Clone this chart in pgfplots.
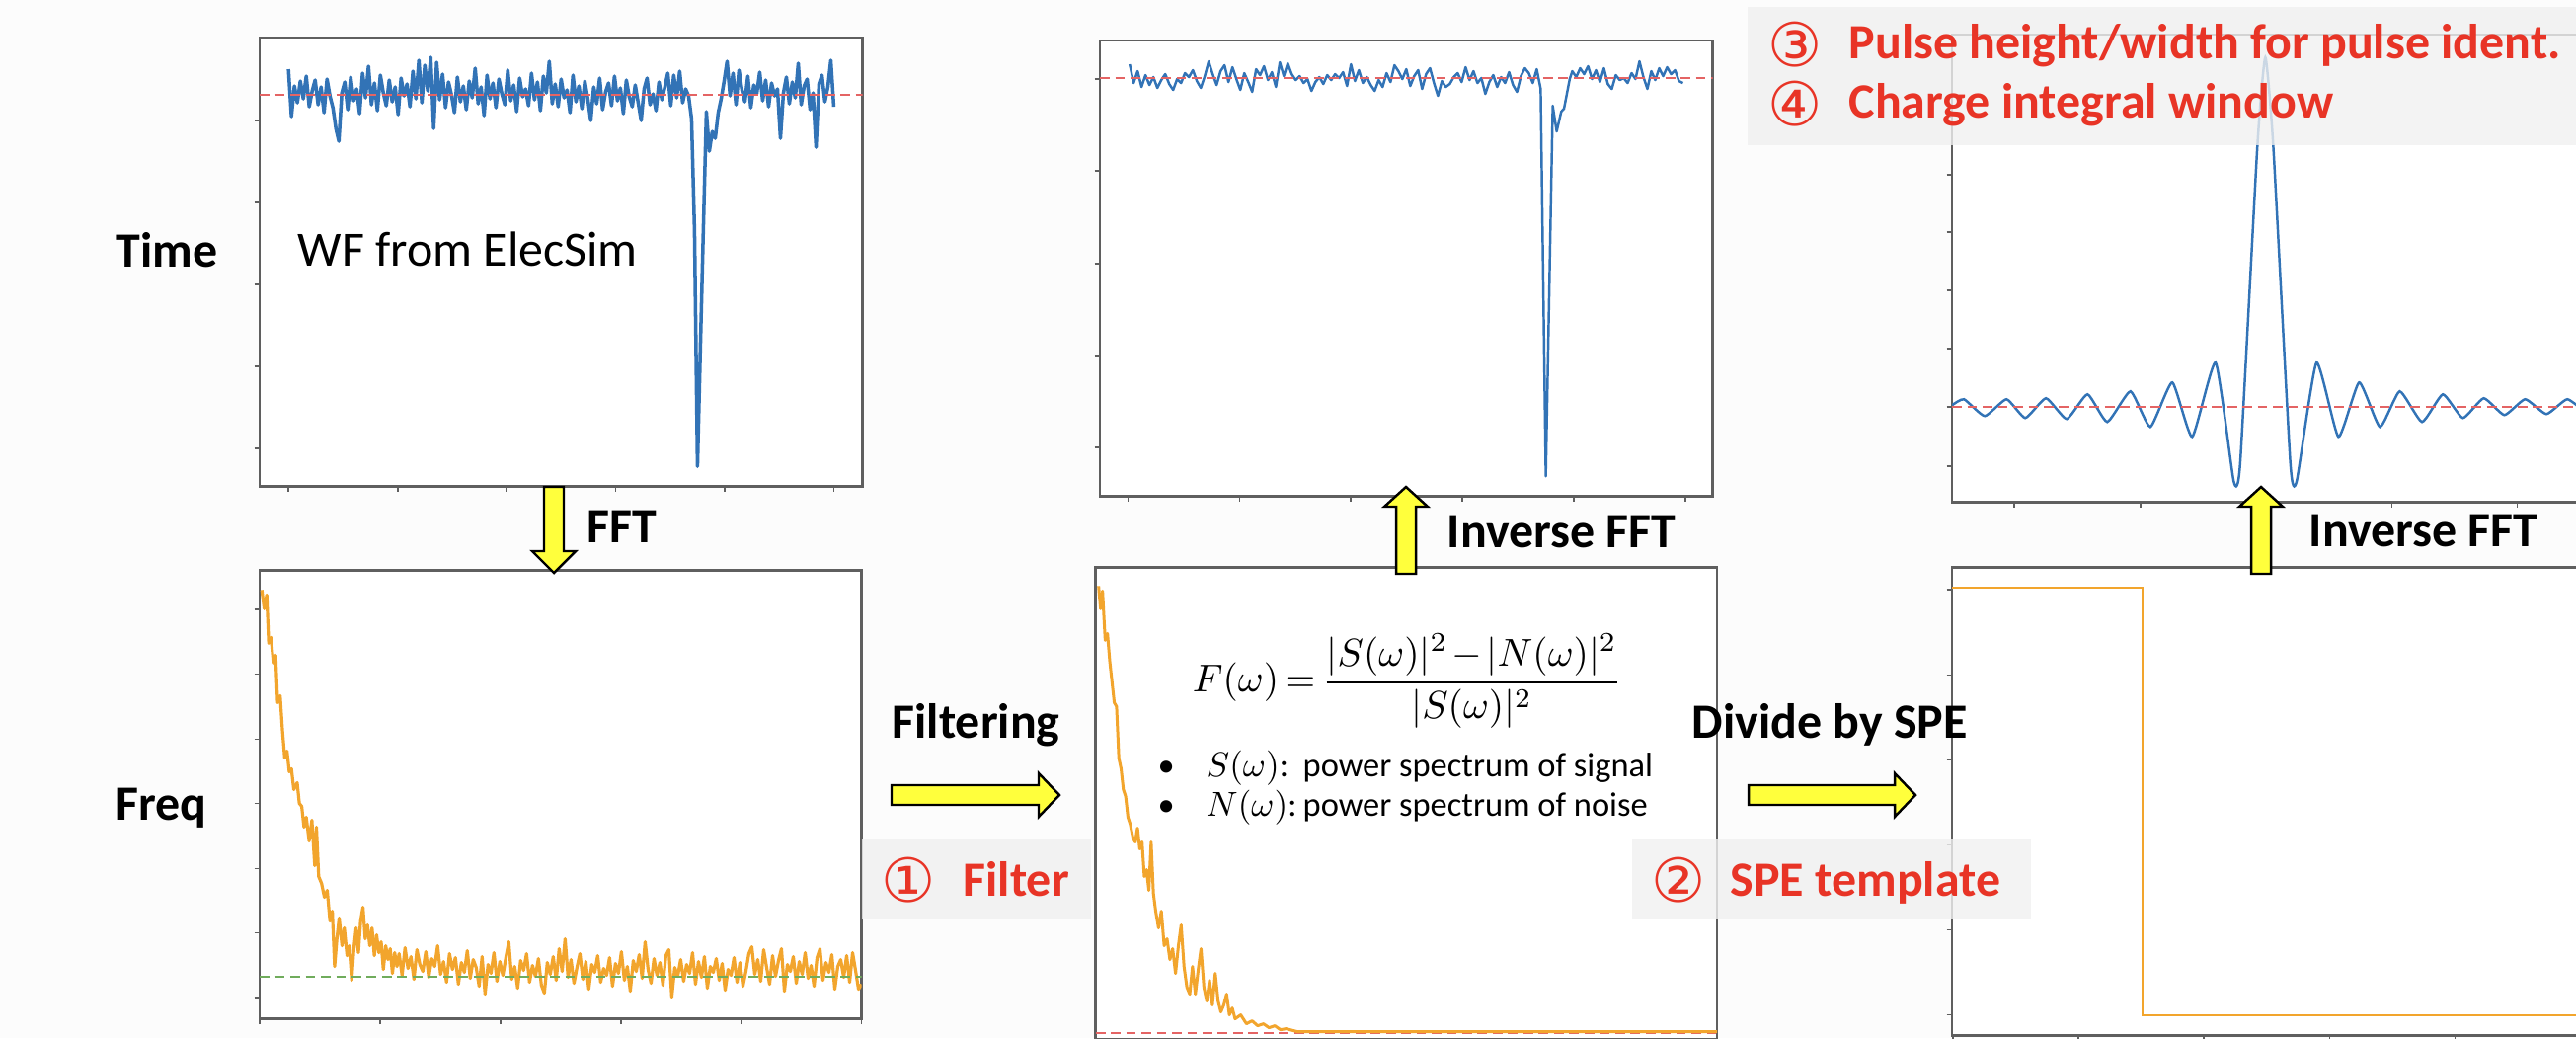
\documentclass[border=0pt]{standalone}
\usepackage{pgfplots}
\pgfplotsset{compat=1.18}
\usepackage{fontspec}
\setmainfont{Carlito}
\newfontfamily\circled{DejaVu Sans}

\definecolor{bgc}{RGB}{252,252,252}
\definecolor{mblue}{RGB}{50,115,182}
\definecolor{morange}{RGB}{242,165,45}
\definecolor{dashred}{RGB}{228,100,100}
\definecolor{dashgreen}{RGB}{112,172,92}
\definecolor{txtred}{RGB}{232,52,38}
\definecolor{boxgray}{RGB}{240,240,240}
\definecolor{ayellow}{RGB}{255,255,60}
\definecolor{framec}{RGB}{95,95,95}

\pgfplotsset{
  panel/.style={scale only axis, anchor=south west,
    axis background/.style={fill=white},
    axis line style={framec,line width=0.75pt},
    tick align=outside, tick pos=left, major tick length=0.055cm,
    tick style={framec,line width=0.5pt},
    xticklabels={}, yticklabels={}},
  refline/.style={line width=0.6pt, dash pattern=on 2.8pt off 1.6pt}
}

% arrows: tail x, tip x, centre y  /  centre x, start y, tip y, head length
\newcommand{\rarrow}[3]{\filldraw[ayellow, draw=black, line width=0.7pt, line join=miter]
  (#1,{#3-10}) -- ({#2-21},{#3-10}) -- ({#2-21},{#3-22}) -- (#2,#3) --
  ({#2-21},{#3+22}) -- ({#2-21},{#3+10}) -- (#1,{#3+10}) -- cycle;}
\newcommand{\varrow}[4]{\filldraw[ayellow, draw=black, line width=0.7pt, line join=miter]
  ({#1-10},#2) -- ({#1-10},{#3+#4}) -- ({#1-22},{#3+#4}) -- (#1,#3) --
  ({#1+22},{#3+#4}) -- ({#1+10},{#3+#4}) -- ({#1+10},#2) -- cycle;}

\begin{document}
\begin{tikzpicture}
\begin{scope}[x=0.01cm,y=-0.01cm]
\fill[bgc] (0,0) rectangle (2609,1051);
\end{scope}

% ---- time domain, raw waveform
\begin{axis}[panel, at={(2.63cm,-4.92cm)}, width=6.10cm, height=4.54cm,
  xmin=-9.667, xmax=193.667, ymin=0, ymax=454,
  xtick={0,36.8,73.6,110.4,147.2,184}, ytick={38,121,204,287,370}]
\addplot[mblue, line width=1.0pt, line join=round] coordinates {
(0,422)(1,374)(2,405)(3,388)(4,410)(5,392)(6,415)(7,384)(8,400)(9,411)
(10,386)(11,404)(12,378)(13,412)(14,395)(15,383)(16,362)(17,349)(18,398)(19,409)
(20,381)(21,414)(22,390)(23,402)(24,377)(25,418)(26,393)(27,425)(28,386)(29,408)
(30,380)(31,416)(32,398)(33,385)(34,411)(35,389)(36,404)(37,376)(38,413)(39,395)
(40,407)(41,384)(42,420)(43,392)(44,431)(45,388)(46,426)(47,400)(48,434)(49,362)
(50,429)(51,391)(52,417)(53,383)(54,409)(55,396)(56,378)(57,414)(58,389)(59,405)
(60,381)(61,410)(62,393)(63,423)(64,387)(65,404)(66,375)(67,416)(68,392)(69,408)
(70,383)(71,412)(72,397)(73,386)(74,421)(75,390)(76,406)(77,379)(78,413)(79,394)
(80,402)(81,385)(82,418)(83,391)(84,409)(85,380)(86,415)(87,398)(88,430)(89,387)
(90,407)(91,384)(92,412)(93,393)(94,401)(95,378)(96,416)(97,389)(98,405)(99,382)
(100,410)(101,392)(102,370)(103,404)(104,387)(105,413)(106,381)(107,399)(108,408)(109,385)
(110,415)(111,390)(112,403)(113,377)(114,411)(115,394)(116,384)(117,406)(118,388)(119,370)
(120,402)(121,413)(122,386)(123,397)(124,380)(125,409)(126,391)(127,404)(128,418)(129,385)
(130,416)(131,393)(132,420)(133,388)(134,402)(135,395)(136,372)(137,259)(138,20)(139,142)
(140,262)(141,379)(142,339)(143,359)(144,352)(145,378)(146,392)
(147,410)(148,430)(149,395)(150,418)(151,386)(152,421)(153,401)(154,389)(155,415)(156,383)
(157,406)(158,397)(159,419)(160,390)(161,411)(162,384)(163,408)(164,395)(165,402)(166,352)
(167,398)(168,414)(169,387)(170,409)(171,393)(172,428)(173,386)(174,405)(175,412)(176,381)
(177,398)(178,343)(179,407)(180,416)(181,389)(182,404)(183,431)(184,384)};
\addplot[dashred, refline] coordinates {(-9.667,396)(193.667,396)};
\end{axis}

% ---- time domain, filtered
\begin{axis}[panel, at={(11.135cm,-5.02cm)}, width=6.20cm, height=4.61cm,
  xmin=-7.5, xmax=147.5, ymin=0, ymax=461,
  xtick={-0.4,27.8,56,84.2,112.4,140.6}, ytick={49,142,235,329,422}]
\addplot[mblue, line width=0.7pt, line join=round] coordinates {
(0,437)(1,418)(2,430)(3,414)(4,426)(5,416)(6,424)(7,413)(8,421)(9,427)
(10,417)(11,411)(12,422)(13,418)(14,428)(15,424)(16,431)(17,420)(18,413)(19,425)
(20,440)(21,427)(22,416)(23,430)(24,436)(25,419)(26,434)(27,422)(28,411)(29,428)
(30,419)(31,409)(32,432)(33,426)(34,435)(35,421)(36,429)(37,414)(38,439)(39,425)
(40,438)(41,427)(42,421)(43,425)(44,418)(45,422)(46,410)(47,419)(48,424)(49,417)
(50,426)(51,421)(52,427)(53,423)(54,429)(55,415)(56,437)(57,420)(58,431)(59,418)
(60,424)(61,416)(62,410)(63,421)(64,414)(65,428)(66,419)(67,436)(68,430)(69,422)
(70,432)(71,415)(72,425)(73,431)(74,412)(75,427)(76,433)(77,418)(78,405)(79,420)
(80,414)(81,417)(82,424)(83,428)(84,419)(85,434)(86,421)(87,430)(88,418)(89,423)
(90,407)(91,419)(92,426)(93,414)(94,424)(95,418)(96,429)(97,416)(98,409)(99,425)
(100,433)(101,428)(102,418)(103,432)(104,412)(105.3,20)(107.05,395)(108.05,369)
(109.2,389)(109.9,392)(111.35,422)
(112,430)(113,424)(114,433)(115,427)(116,435)(117,422)(118,431)(119,419)(120,433)(121,417)
(122,412)(123,426)(124,421)(125,423)(126,418)(127,428)(128,422)(129,440)(130,424)(131,412)
(132,430)(133,421)(134,433)(135,425)(136,434)(137,427)(138,431)(139,420)(140,418)};
\addplot[dashred, refline] coordinates {(-7.5,423)(147.5,423)};
\end{axis}

% ---- time domain, deconvolved
\begin{axis}[panel, at={(19.76cm,-5.08cm)}, width=7.24cm, height=4.73cm,
  xmin=0, xmax=724, ymin=0, ymax=473,
  xtick={63,191,318,445,572,699}, ytick={36,96,155,214,273,331,390}]
\addplot[mblue, line width=0.7pt, smooth, tension=0.3] coordinates {
(0,98)(12,104)(33,87)(55,104)(74,85)(95,105)(116,84)(137,109)(157,81)(180.5,112)
(200.6,76)(222.8,121)(243,66)(266.7,141)(285,21)(291.6,40)(309,361)(317,450)(325,361)
(342.3,40)(348.7,21)(368.8,141)(391,66)(412,121)(433,76)(453,112)(475.6,81)(496.7,109)
(516.9,85)(538,105)(559,88)(580,104)(601.5,89)(622.6,104)(644,90)(665,103)(686,91)
(707,102)(724,96)};
\addplot[dashred, refline] coordinates {(0,96)(724,96)};
\end{axis}

% ---- frequency domain, raw spectrum
\begin{axis}[panel, at={(2.63cm,-10.31cm)}, width=6.09cm, height=4.54cm,
  xmin=0, xmax=609, ymin=0, ymax=454,
  xtick={0,121.8,243.6,365.4,487.2,609}, ytick={21.5,87,152,218,283,349,414}]
\addplot[morange, line width=0.9pt, line join=round] coordinates {
(2,434)(4.5,415)(7,429)(9,380)(11.4,386)(13.7,360)(16,368)(18,320)(20.6,327)(22.9,292)
(25.2,264)(27.5,271)(29.8,250)(32,253)(34.4,232)(37.8,239)(40,218)(42.4,215)(44.7,194)
(47,204)(49.9,180)(52.7,201)(55.6,155)(57.3,194)(59.6,144)(62.5,137)(65.4,123)(68.2,130)
(71,99)(73.4,109)(75.7,53)(78,81)(80.3,102)(83.2,74)(85.5,92)(88.3,64)(90.6,74)(93,39)
(95.2,71)(97.5,92)(99.8,67)(102,99)(104.4,113)(106.7,81)(109,95)(111.3,74)(113.6,92)
(115.9,64)(118.2,85)(120.5,67)(122.8,78)(125,50)(127.4,74)(129.7,60)(132,71)(134.2,46)
(136.5,67)(138.8,53)
(141,66)(144,44)(147,72)(150,51)(153,63)(156,40)(159,70)(162,55)(165,48)(168,68)
(171,42)(174,61)(177,53)(180,74)(183,45)(186,58)(189,37)(192,66)(195,50)(198,62)
(201,35)(204,57)(207,47)(210,69)(213,41)(216,60)(219,52)(222,33)(225,63)(228,25)
(231,55)(234,46)(237,67)(240,38)(243,58)(246,44)(249,62)(252,78)(255,40)(258,53)
(261,31)(264,59)(267,49)(270,66)(273,37)(276,54)(279,43)(282,61)(285,34)(288,26)
(291,57)(294,45)(297,63)(300,39)(303,71)(306,48)(309,81)(312,42)(315,60)(318,36)
(321,52)(324,66)(327,40)(330,58)(333,30)(336,55)(339,47)(342,64)(345,37)(348,51)
(351,44)(354,62)(357,33)(360,56)(363,46)(366,68)(369,39)(372,53)(375,28)(378,59)
(381,48)(384,65)(387,41)(390,78)(393,50)(396,36)(399,61)(402,44)(405,57)(408,34)
(411,64)(414,70)(417,22)(420,52)(423,43)(426,60)(429,38)(432,55)(435,46)(438,67)
(441,35)(444,58)(447,42)(450,63)(453,31)(456,53)(459,47)(462,61)(465,39)(468,56)
(471,29)(474,50)(477,44)(480,62)(483,37)(486,57)(489,33)(492,48)(495,66)(498,73)
(501,45)(504,60)(507,38)(510,70)(513,52)(516,35)(519,64)(522,43)(525,59)(528,71)
(531,28)(534,55)(537,48)(540,63)(543,36)(546,58)(549,45)(552,67)(555,41)(558,54)
(561,33)(564,62)(567,71)(570,39)(573,57)(576,47)(579,65)(582,30)(585,53)(588,60)
(591,42)(594,64)(597,37)(600,67)(603,49)(606,30)(609,35)};
\addplot[dashgreen, refline] coordinates {(0,43)(609,43)};
\end{axis}

% ---- frequency domain, filtered spectrum
\begin{axis}[panel, at={(11.09cm,-10.52cm)}, width=6.29cm, height=4.78cm,
  xmin=0, xmax=629, ymin=0, ymax=478, xtick=\empty, ytick=\empty]
\addplot[dashred, refline] coordinates {(0,7)(629,7)};
\addplot[morange, line width=0.85pt, line join=round] coordinates {
(3,459)(5,436)(7,454)(9.7,404)(12,411)(14.3,383)(16.6,362)(18.9,341)(21.2,337)(23.5,285)
(25.8,274)(28.1,253)(30.4,246)(32.7,225)(35,218)(37.8,204)(40.1,200)(42.4,214)(44.7,193)
(47,200)(49.3,165)(51.6,172)(53.9,151)(56.2,200)(58.5,148)(60.8,130)(63.7,113)(66.5,130)
(69.4,95)(72.3,102)(75.2,81)(78,92)(80.9,67)(83.8,95)(86.6,116)(89.5,74)(92.4,53)
(95.3,46)(98.1,74)(101,46)(103.9,71)(106.7,92)(109.6,53)(112.5,39)(115.3,60)(118.2,35)
(121.1,67)(124,39)(126.8,28)(129.7,35)(132.6,46)(135.4,25)(138.3,32)(141.2,21)(146.9,25)
(152.7,16)(158.4,19)(164.1,14)(169.9,16)(175.6,12)(181.4,14)(187.1,10)(192.8,11)
(204.3,8)(300,8)(400,8)(500,8)(629,8)};
\end{axis}

% ---- frequency domain, SPE template spectrum
\begin{axis}[panel, at={(19.76cm,-10.48cm)}, width=7.24cm, height=4.74cm,
  xmin=0, xmax=724, ymin=0, ymax=474,
  xtick={1,128,255,382,509,636}, ytick={21,107,193,279,365,451}]
\addplot[morange, line width=0.6pt] coordinates {(0,453)(193,453)(193,21)(724,21)};
\end{axis}

\begin{scope}[x=0.01cm,y=-0.01cm,
  lab/.style={font=\fontsize{14.2pt}{17pt}\selectfont\bfseries, inner sep=0pt, anchor=base west},
  redlab/.style={lab, text=txtred},
  circ/.style={font=\circled\fontsize{17.5pt}{18pt}\selectfont, text=txtred, inner sep=0pt, anchor=center}]
% arrows
\varrow{561}{493}{580}{-22}
\rarrow{903}{1073}{805}
\rarrow{1771}{1940}{805}
\varrow{1424}{581}{493}{20}
\varrow{2290}{581}{493}{20}

% labels
\node[lab] at (117,270) {Time};
\node[lab] at (117,830) {Freq};
\node[lab, font=\fontsize{14.2pt}{17pt}\selectfont] at (301,269) {WF from ElecSim};
\node[lab] at (594,549) {FFT};
\node[lab] at (903,747) {Filtering};
\node[lab] at (1465,554) {Inverse FFT};
\node[lab] at (1713,747) {Divide by SPE};
\node[lab] at (2338,553) {Inverse FFT};

% filter formula
\node[inner sep=0pt, anchor=west, scale=1.12, transform shape, font=\fontsize{10pt}{12pt}\selectfont] at (1207,690)
  {$\medmuskip=2mu\thickmuskip=3mu\displaystyle F(\omega)=\frac{|S(\omega)|^2-|N(\omega)|^2}{|S(\omega)|^2}$};
\begin{scope}[every node/.style={inner sep=0pt, anchor=base west, font=\fontsize{9.8pt}{11pt}\selectfont}]
\node at (1172,786) {\textbullet};
\node at (1221,786) {$S(\omega)$:};
\node at (1319,786) {power spectrum of signal};
\node at (1172,826) {\textbullet};
\node at (1221,826) {$N(\omega)$:};
\node at (1319,826) {power spectrum of noise};
\end{scope}

% grey boxes
\fill[boxgray, opacity=0.8] (873,849) rectangle (1105,930);
\fill[boxgray, opacity=0.8] (1653,849) rectangle (2057,930);
\fill[boxgray, opacity=0.8] (1770,7) rectangle (2620,147);

\node[circ] at (920,891) {①};
\node[redlab] at (975,907) {Filter};
\node[circ] at (1700,891) {②};
\node[redlab] at (1752,907) {SPE template};
\node[circ] at (1818,45) {③};
\node[redlab] at (1872,59) {Pulse height/width for pulse ident.};
\node[circ] at (1818,105) {④};
\node[redlab] at (1872,119) {Charge integral window};

\pgfresetboundingbox
\path[use as bounding box] (0,0) rectangle (2609,1051);
\end{scope}
\end{tikzpicture}
\end{document}
